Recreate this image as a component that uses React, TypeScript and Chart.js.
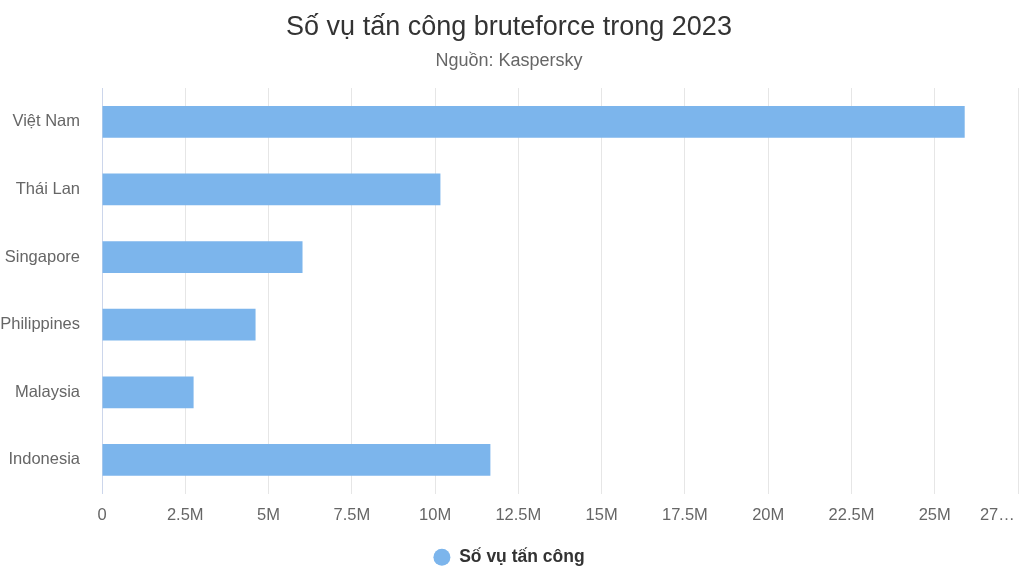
import { useEffect, useRef } from "react"
import { Chart, registerables } from "chart.js"

Chart.register(...registerables)

const countries = ["Việt Nam", "Thái Lan", "Singapore", "Philippines", "Malaysia", "Indonesia"]
const attacks = [25900000, 10160000, 6020000, 4610000, 2750000, 11660000]
const seriesName = "Số vụ tấn công"
const titleText = "Số vụ tấn công bruteforce trong 2023"
const subtitleText = "Nguồn: Kaspersky"

const FONT = "'Liberation Sans', Arial, Helvetica, sans-serif"

function tickLabel(v: number) {
  if (v === 0) return "0"
  // the last tick is cut short in the original, shifted left of its gridline
  if (v >= 27500000) return "27…" + "\u00a0".repeat(9)
  return `${v / 1000000}M`
}

export default function App() {
  const canvasRef = useRef<HTMLCanvasElement | null>(null)
  const chartRef = useRef<Chart | null>(null)

  useEffect(() => {
    document.body.style.margin = "0"
    if (!canvasRef.current) return
    const ctx = canvasRef.current.getContext("2d")
    if (!ctx) return
    chartRef.current?.destroy()
    chartRef.current = new Chart(ctx, {
      type: "bar",
      data: {
        labels: countries,
        datasets: [
          {
            label: seriesName,
            data: attacks,
            backgroundColor: "#7cb5ec",
            borderWidth: 0,
            barPercentage: 1,
            categoryPercentage: 0.47,
          },
        ],
      },
      options: {
        indexAxis: "y",
        animation: false,
        responsive: true,
        maintainAspectRatio: false,
        layout: { padding: { left: 0, right: 2, top: 0, bottom: 0 } },
        scales: {
          x: {
            min: 0,
            max: 27500000,
            afterFit: (scale: any) => {
              scale.paddingRight = 0
            },
            ticks: {
              stepSize: 2500000,
              color: "#666666",
              padding: 12,
              maxRotation: 0,
              autoSkip: false,
              font: { family: FONT, size: 16.5 },
              callback: (v) => tickLabel(Number(v)),
            },
            grid: { color: "#e6e6e6", drawTicks: false },
            border: { display: false },
          },
          y: {
            afterFit: (scale: any) => {
              scale.width = 102
            },
            ticks: {
              color: "#666666",
              padding: 22,
              font: { family: FONT, size: 16.5 },
            },
            grid: { display: false, drawTicks: false },
            border: { display: true, color: "#ccd6eb" },
          },
        },
        plugins: {
          title: {
            display: true,
            text: titleText,
            color: "#333333",
            font: { family: FONT, size: 27, weight: "normal" },
            padding: { top: 11, bottom: 7 },
          },
          subtitle: {
            display: true,
            text: subtitleText,
            color: "#666666",
            font: { family: FONT, size: 18, weight: "normal" },
            padding: { top: 0, bottom: 16 },
          },
          legend: {
            position: "bottom",
            labels: {
              usePointStyle: true,
              pointStyle: "circle",
              boxWidth: 17,
              boxHeight: 12,
              color: "#333333",
              padding: 11,
              font: { family: FONT, size: 17.5, weight: "bold" },
            },
          },
          tooltip: { enabled: false },
        },
      },
    })
    return () => {
      chartRef.current?.destroy()
      chartRef.current = null
    }
  }, [])

  return (
    <div style={{ position: "relative", width: 1020, height: 576, background: "#ffffff" }}>
      <canvas ref={canvasRef} />
    </div>
  )
}
